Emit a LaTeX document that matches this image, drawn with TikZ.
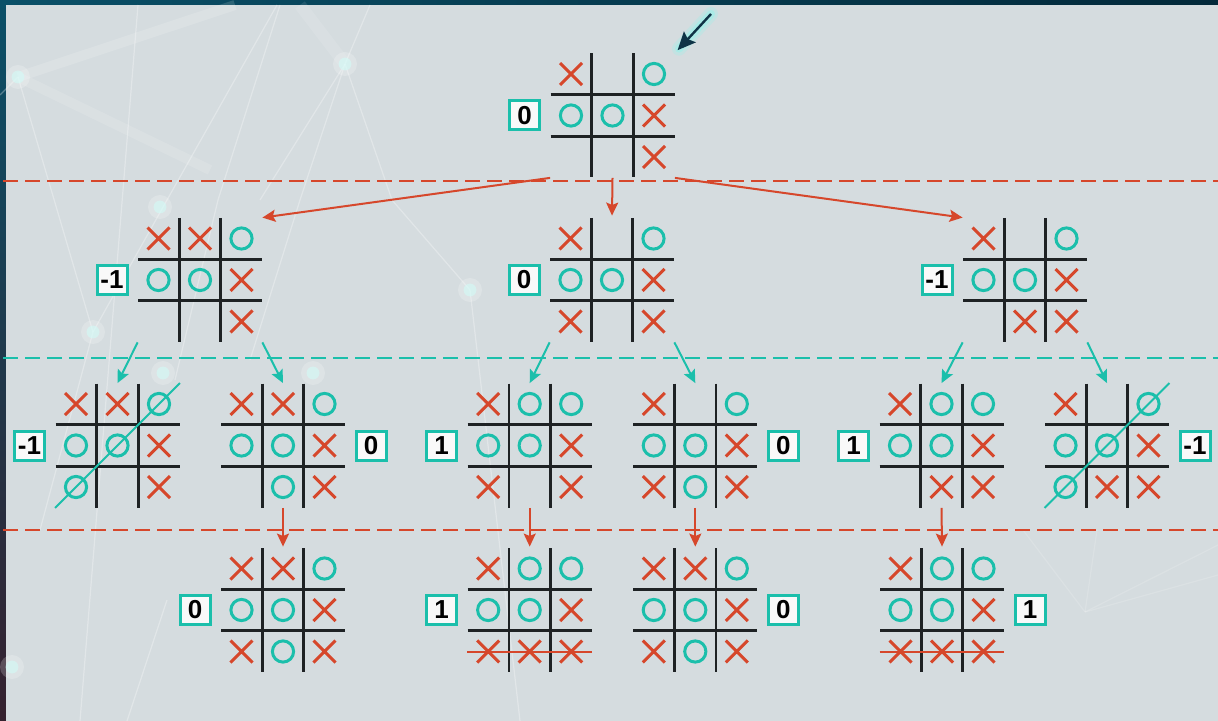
\documentclass[tikz,border=0pt]{standalone}
\usepackage{fontspec}
\setmainfont{Liberation Sans}
\usetikzlibrary{arrows.meta,calc}
\definecolor{ttred}{HTML}{D6472B}
\definecolor{ttteal}{HTML}{1BBFAB}
\definecolor{ttgrid}{HTML}{1E2224}
\definecolor{panelbg}{HTML}{D5DCDF}
\definecolor{darkA}{HTML}{0A5068}
\definecolor{darkB}{HTML}{03293A}
\definecolor{navy}{HTML}{0F3346}
\definecolor{glowc}{HTML}{8FF5EC}
\tikzset{
  boardbox/.style={rectangle,minimum width=62pt,minimum height=62pt,inner sep=0pt},
  gridline/.style={ttgrid,line width=1.4pt},
  xstroke/.style={ttred,line width=1.5pt},
  ostroke/.style={ttteal,line width=1.5pt},
  pics/xmark/.style={code={\draw[xstroke] (-11,-11)--(11,11) (-11,11)--(11,-11);}},
  pics/omark/.style={code={\draw[ostroke] (0,0) circle[radius=5.3pt];}},
  score/.style={draw=ttteal,line width=1.5pt,fill=white!95!gray,minimum width=15pt,
    minimum height=14.5pt,inner sep=0pt,text=black,font=\bfseries\fontsize{13}{13}\selectfont},
  redarrow/.style={ttred,line width=1pt,-{Stealth[length=6.5pt,width=6pt,inset=1.2pt]}},
  tealarrow/.style={ttteal,line width=1pt,-{Stealth[length=6.5pt,width=6pt,inset=1.2pt]}},
  reddash/.style={ttred,line width=1pt,dash pattern=on 7.5pt off 3.5pt},
  tealdash/.style={ttteal,line width=1pt,dash pattern=on 7.5pt off 3.5pt},
  winline/.style={ttteal,line width=1pt},
  strikeline/.style={ttred,line width=1pt},
  plex/.style={white,opacity=0.3,line width=0.6pt},
}
\newcommand\tttboard[4]{%
  \node[boardbox] (#1) at (#2,#3) {};
  \begin{scope}[shift={(#2,#3)}]
    \draw[gridline] (-20.75,-62)--(-20.75,62) (20.75,-62)--(20.75,62)
                    (-62,-20.75)--(62,-20.75) (-62,20.75)--(62,20.75);
    \foreach \mk [count=\i from 0] in {#4} {%
      \pgfmathtruncatemacro\brow{div(\i,3)}%
      \pgfmathtruncatemacro\bcol{mod(\i,3)}%
      \ifnum\mk=1 \pic at ({41.5*(\bcol-1)},{41.5*(\brow-1)}) {xmark};\fi
      \ifnum\mk=2 \pic at ({41.5*(\bcol-1)},{41.5*(\brow-1)}) {omark};\fi
    }
  \end{scope}}
\begin{document}
\begin{tikzpicture}[x=0.5pt,y=-0.5pt]
\useasboundingbox (0,0) rectangle (1218,721);
% background
\shade[left color=darkA,right color=darkB] (0,0) rectangle (1218,721);
\shade[top color=darkA,bottom color=darkB!80!red] (0,0) rectangle (6,721);
\fill[panelbg] (6,5) rectangle (1218,721);
% plexus decoration
\begin{scope}[plex]
  \draw (138,5)--(80,721);
  \draw (277,5)--(167,200)--(93,332);
  \draw (280,5)--(218,200)--(175,380);
  \draw (370,5)--(345,64)--(260,200);
  \draw (345,64)--(300,200)--(250,360);
  \draw (345,64)--(392,200)--(470,290);
  \draw (18,77)--(93,332);
  \draw (0,95)--(18,77);
  \draw (93,332)--(40,530);
  \draw (167,600)--(127,721);
  \draw (470,290)--(520,721);
\end{scope}
\begin{scope}[white,opacity=0.15,line width=0.6pt]
  \draw (1085,612)--(1023,530);
  \draw (1085,612)--(1097,530);
  \draw (1085,612)--(1218,575);
  \draw (1085,612)--(1218,545);
\end{scope}
\draw[white,opacity=0.15,line width=5pt] (18,77)--(235,5);
\draw[white,opacity=0.12,line width=5pt] (18,77)--(210,170);
\draw[white,opacity=0.1,line width=6pt] (300,5)--(345,64);
\foreach \p in {(18,77),(345,64),(160,207),(470,290),(93,332),(163,373),(313,373),(12,667)} {
  \fill[white,opacity=0.2] \p circle[radius=6pt];
  \fill[glowc!40!white,opacity=0.6] \p circle[radius=3.2pt];
}
% dashed separators
\draw[reddash] (3,181)--(1218,181);
\draw[tealdash] (3,358)--(1218,358);
\draw[reddash] (3,530)--(1218,530);
% boards
\tttboard{T}{612.5}{115.5}{1,0,2,2,2,1,0,0,1}
\tttboard{La}{200}{280}{1,1,2,2,2,1,0,0,1}
\tttboard{Lb}{612}{280}{1,0,2,2,2,1,1,0,1}
\tttboard{Lc}{1025}{280}{1,0,2,2,2,1,0,1,1}
\tttboard{Ma}{117.5}{445.5}{1,1,2,2,2,1,2,0,1}
\tttboard{Mb}{283}{445.5}{1,1,2,2,2,1,0,2,1}
\tttboard{Mc}{529.7}{445.5}{1,2,2,2,2,1,1,0,1}
\tttboard{Md}{695.3}{445.5}{1,0,2,2,2,1,1,2,1}
\tttboard{Me}{941.5}{445.5}{1,2,2,2,2,1,0,1,1}
\tttboard{Mf}{1107}{445.5}{1,0,2,2,2,1,2,1,1}
\tttboard{Ba}{283}{610}{1,1,2,2,2,1,1,2,1}
\tttboard{Bb}{529.7}{610}{1,2,2,2,2,1,1,1,1}
\tttboard{Bc}{695.3}{610}{1,1,2,2,2,1,1,2,1}
\tttboard{Bd}{942}{610}{1,2,2,2,2,1,1,1,1}
% win lines
\draw[winline] (Ma.south west)--(Ma.north east);
\draw[winline] (Mf.south west)--(Mf.north east);
\draw[strikeline] ($(Bb.south west)+(0,-20.75)$)--($(Bb.south east)+(0,-20.75)$);
\draw[strikeline] ($(Bd.south west)+(0,-20.75)$)--($(Bd.south east)+(0,-20.75)$);
% scores
\node[score] (sT) at (524.5,115.5) {0};
\node[score] (sLa) at (112,280) {-1};
\node[score] (sLb) at (524,280) {0};
\node[score] (sLc) at (937,280) {-1};
\node[score] (sMa) at (29.5,445.5) {-1};
\node[score] (sMb) at (371,445.5) {0};
\node[score] (sMc) at (441.7,445.5) {1};
\node[score] (sMd) at (783.3,445.5) {0};
\node[score] (sMe) at (853.5,445.5) {1};
\node[score] (sMf) at (1195,445.5) {-1};
\node[score] (sBa) at (195,610) {0};
\node[score] (sBb) at (441.7,610) {1};
\node[score] (sBc) at (783.3,610) {0};
\node[score] (sBd) at (1030,610) {1};
% connectors
\draw[redarrow] (T.south west)--(La.north east);
\draw[redarrow] (T.south)--($(Lb.north)+(0,-2)$);
\draw[redarrow] (T.south east)--(Lc.north west);
\draw[tealarrow] (La.south west)--(Ma.north);
\draw[tealarrow] (La.south east)--(Mb.north);
\draw[tealarrow] (Lb.south west)--(Mc.north);
\draw[tealarrow] (Lb.south east)--(Md.north);
\draw[tealarrow] (Lc.south west)--(Me.north);
\draw[tealarrow] (Lc.south east)--(Mf.north);
\draw[redarrow] (Mb.south)--($(Ba.north)+(0,-1)$);
\draw[redarrow] (Mc.south)--($(Bb.north)+(0,-1)$);
\draw[redarrow] (Md.south)--($(Bc.north)+(0,-1)$);
\draw[redarrow] (Me.south)--($(Bd.north)+(0,-1)$);
% pointer arrow
\coordinate (ptr) at (711,14);
\draw[glowc,opacity=0.25,line width=7pt,line cap=round,shorten >=3pt] (ptr)--(T.north east);
\draw[glowc,opacity=0.45,line width=4pt,line cap=round,shorten >=3pt] (ptr)--(T.north east);
\draw[navy,line width=1.2pt,shorten >=2pt,-{Stealth[length=9pt,width=8pt,inset=1.5pt]}] (ptr)--(T.north east);
\end{tikzpicture}
\end{document}
